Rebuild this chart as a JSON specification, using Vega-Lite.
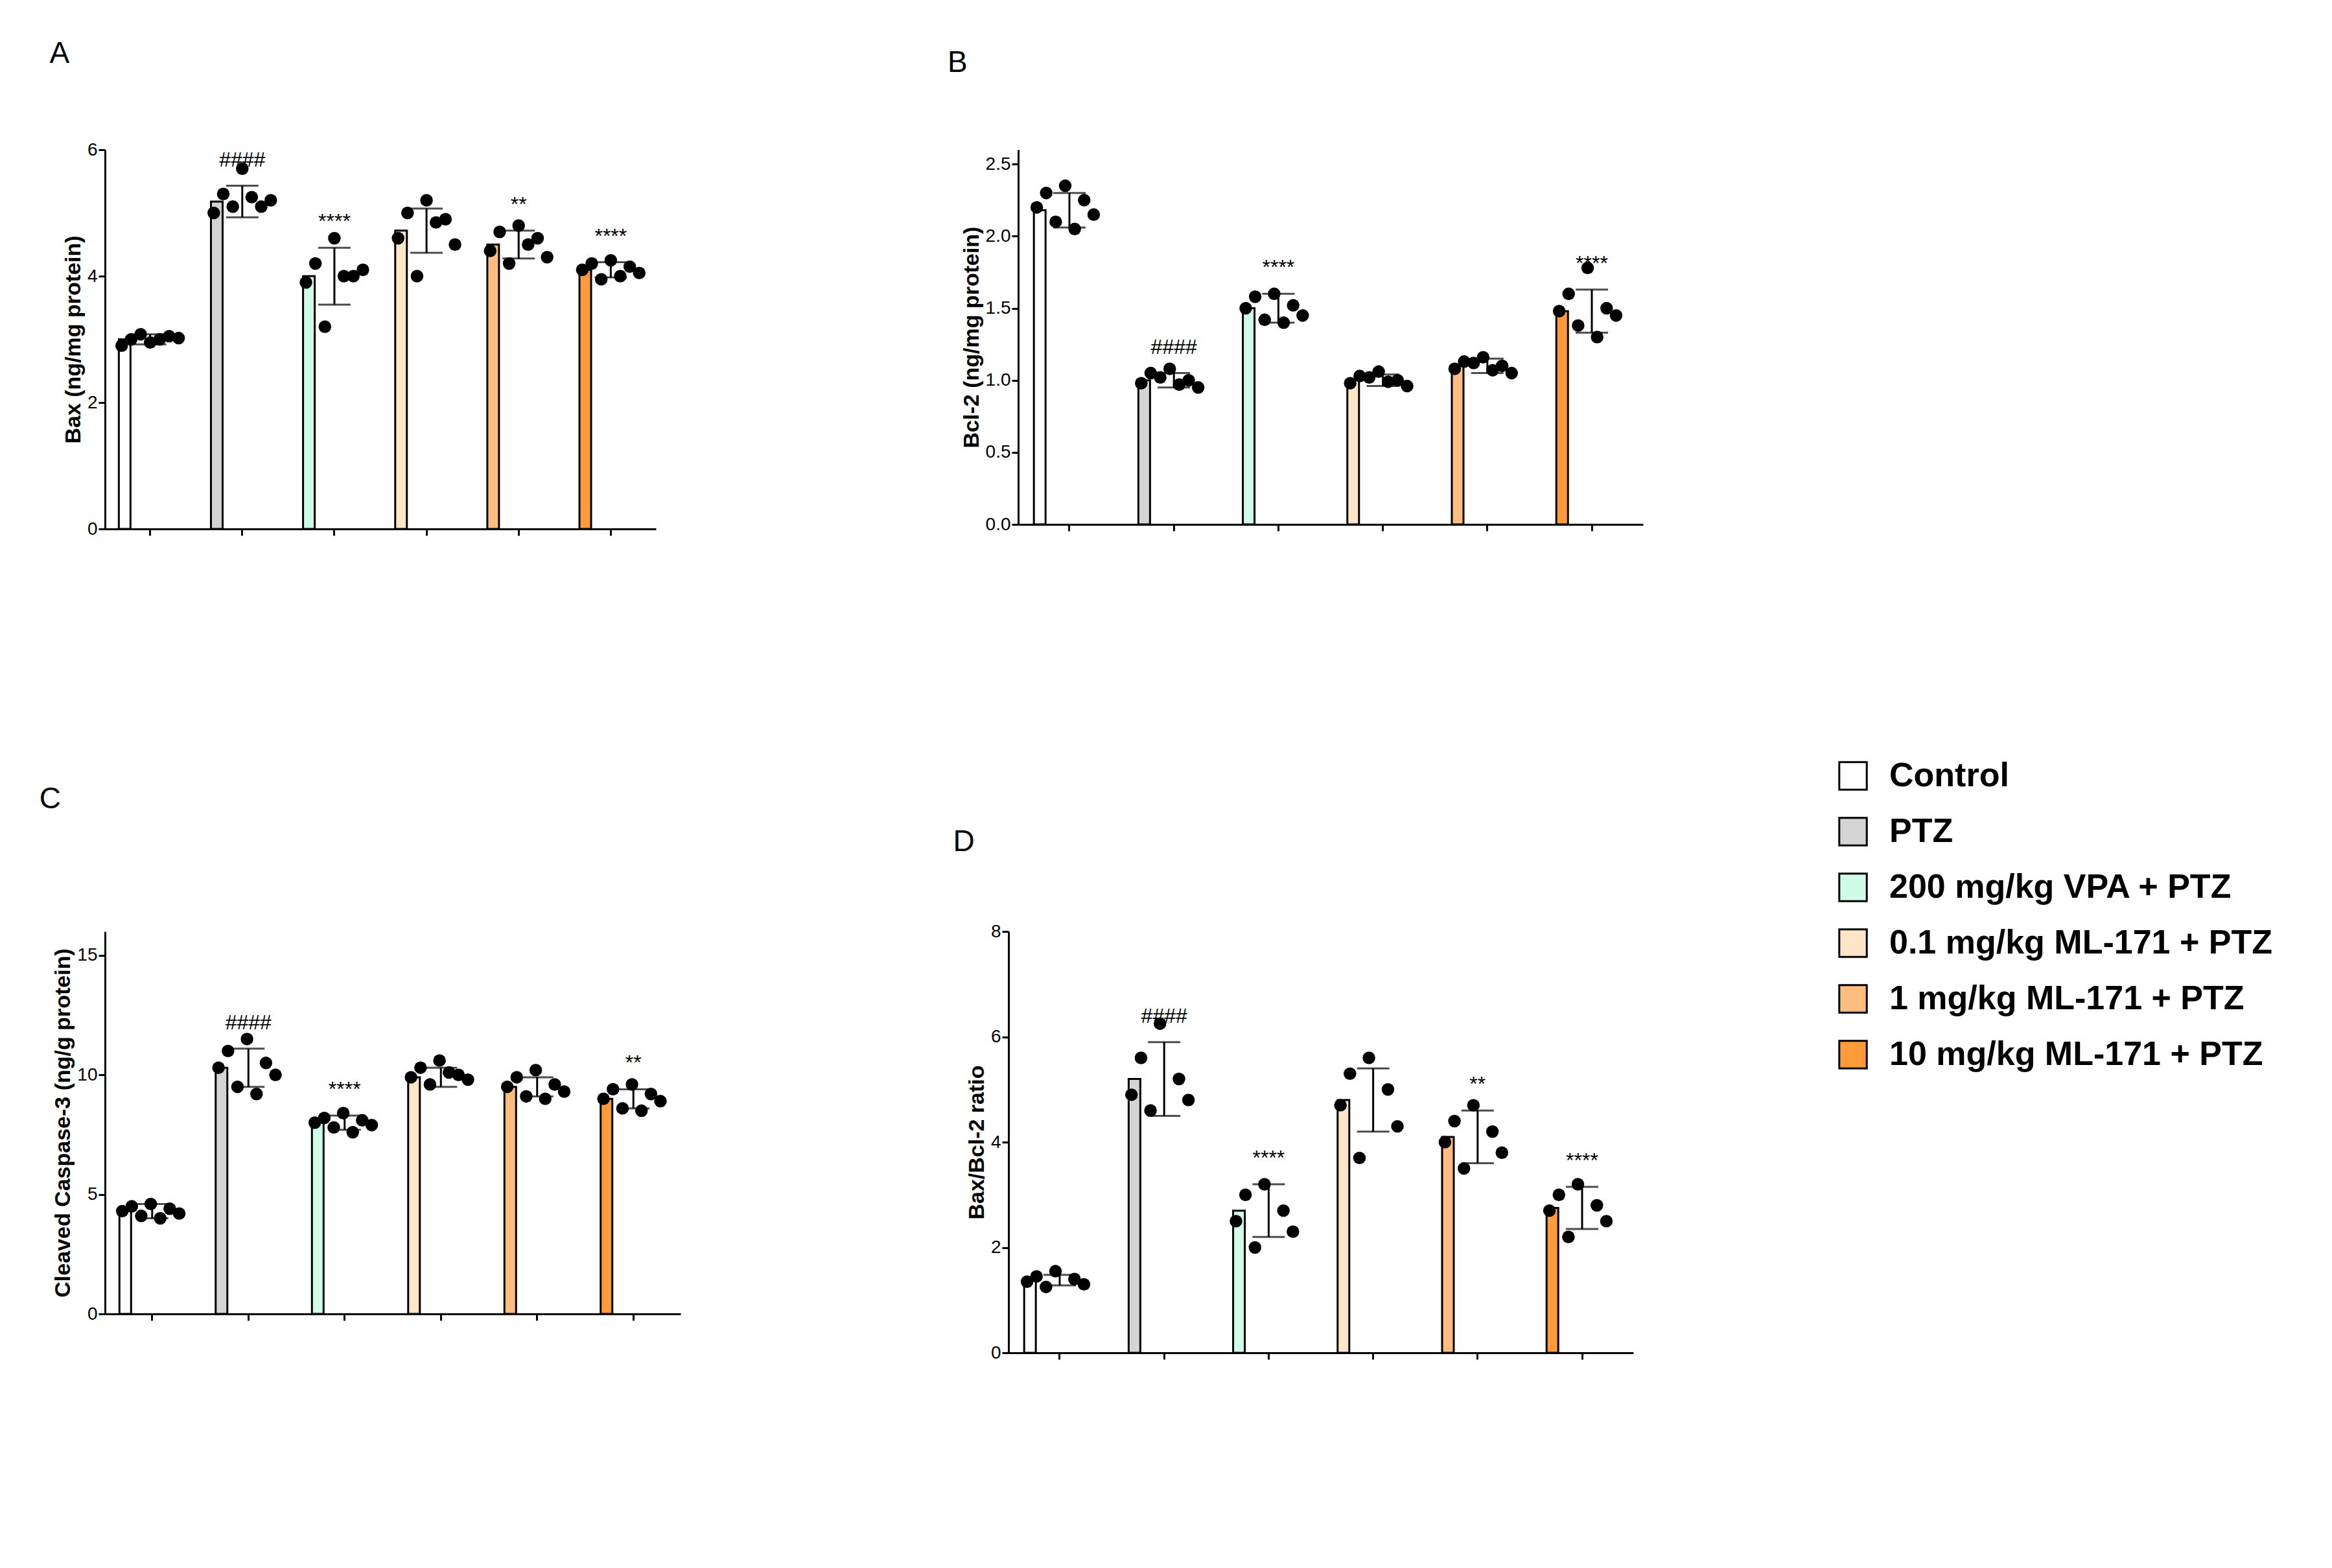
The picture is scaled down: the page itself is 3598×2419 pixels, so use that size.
{
"$schema":"https://vega.github.io/schema/vega-lite/v6.json",
"background":"white",
"padding":{"left":60,"top":60,"right":20,"bottom":20},
"config":{"view":{"stroke":null},"font":"Liberation Sans",
 "axis":{"labelFontSize":28,"titleFontSize":34,"titleFontWeight":"bold","tickColor":"black","domainColor":"black","domainWidth":3,"tickWidth":3,"tickSize":10,"labelColor":"black","titleColor":"black","grid":false},
 "title":{"fontSize":46,"fontWeight":"normal","anchor":"start","color":"black"},
 "legend":{"orient":"none","legendX":2671,"legendY":940,"title":null,"symbolType":"square","symbolSize":1800,"symbolStrokeColor":"black","symbolStrokeWidth":3,"labelFontSize":52,"labelFontWeight":"bold","labelColor":"black","rowPadding":30,"labelOffset":30,"labelLimit":1000}},
"datasets":{
"sum":[
{"p":"A","g":"Control","m":3.0,"lo":2.92,"hi":3.08,"lab":""},
{"p":"A","g":"PTZ","m":5.18,"lo":4.93,"hi":5.43,"lab":"####"},
{"p":"A","g":"200 mg/kg VPA + PTZ","m":4.0,"lo":3.55,"hi":4.45,"lab":"****"},
{"p":"A","g":"0.1 mg/kg ML-171 + PTZ","m":4.72,"lo":4.37,"hi":5.07,"lab":""},
{"p":"A","g":"1 mg/kg ML-171 + PTZ","m":4.5,"lo":4.28,"hi":4.72,"lab":"**"},
{"p":"A","g":"10 mg/kg ML-171 + PTZ","m":4.1,"lo":3.98,"hi":4.22,"lab":"****"},
{"p":"B","g":"Control","m":2.18,"lo":2.06,"hi":2.3,"lab":""},
{"p":"B","g":"PTZ","m":1.0,"lo":0.95,"hi":1.05,"lab":"####"},
{"p":"B","g":"200 mg/kg VPA + PTZ","m":1.5,"lo":1.4,"hi":1.6,"lab":"****"},
{"p":"B","g":"0.1 mg/kg ML-171 + PTZ","m":1.0,"lo":0.96,"hi":1.04,"lab":""},
{"p":"B","g":"1 mg/kg ML-171 + PTZ","m":1.1,"lo":1.05,"hi":1.15,"lab":""},
{"p":"B","g":"10 mg/kg ML-171 + PTZ","m":1.48,"lo":1.33,"hi":1.63,"lab":"****"},
{"p":"C","g":"Control","m":4.3,"lo":4.0,"hi":4.6,"lab":""},
{"p":"C","g":"PTZ","m":10.3,"lo":9.5,"hi":11.1,"lab":"####"},
{"p":"C","g":"200 mg/kg VPA + PTZ","m":8.0,"lo":7.7,"hi":8.3,"lab":"****"},
{"p":"C","g":"0.1 mg/kg ML-171 + PTZ","m":9.9,"lo":9.5,"hi":10.3,"lab":""},
{"p":"C","g":"1 mg/kg ML-171 + PTZ","m":9.5,"lo":9.1,"hi":9.9,"lab":""},
{"p":"C","g":"10 mg/kg ML-171 + PTZ","m":9.0,"lo":8.6,"hi":9.4,"lab":"**"},
{"p":"D","g":"Control","m":1.38,"lo":1.28,"hi":1.48,"lab":""},
{"p":"D","g":"PTZ","m":5.2,"lo":4.5,"hi":5.9,"lab":"####"},
{"p":"D","g":"200 mg/kg VPA + PTZ","m":2.7,"lo":2.2,"hi":3.2,"lab":"****"},
{"p":"D","g":"0.1 mg/kg ML-171 + PTZ","m":4.8,"lo":4.2,"hi":5.4,"lab":""},
{"p":"D","g":"1 mg/kg ML-171 + PTZ","m":4.1,"lo":3.6,"hi":4.6,"lab":"**"},
{"p":"D","g":"10 mg/kg ML-171 + PTZ","m":2.75,"lo":2.35,"hi":3.15,"lab":"****"}
],
"pts":[
{"p":"A","g":"Control","vals":[2.95,3.0,3.05,2.9,3.02,3.08,3.0]},
{"p":"A","g":"PTZ","vals":[5.7,5.3,5.1,5.0,5.2,5.1,5.25]},
{"p":"A","g":"200 mg/kg VPA + PTZ","vals":[4.6,4.2,4.0,3.9,4.1,3.2,4.0]},
{"p":"A","g":"0.1 mg/kg ML-171 + PTZ","vals":[5.2,5.0,4.9,4.6,4.5,4.0,4.85]},
{"p":"A","g":"1 mg/kg ML-171 + PTZ","vals":[4.8,4.7,4.6,4.4,4.3,4.2,4.5]},
{"p":"A","g":"10 mg/kg ML-171 + PTZ","vals":[4.25,4.2,4.15,4.1,4.05,3.95,4.0]},
{"p":"B","g":"Control","vals":[2.35,2.3,2.25,2.2,2.15,2.1,2.05]},
{"p":"B","g":"PTZ","vals":[1.08,1.05,1.0,0.98,0.95,1.02,0.97]},
{"p":"B","g":"200 mg/kg VPA + PTZ","vals":[1.6,1.58,1.52,1.5,1.45,1.42,1.4]},
{"p":"B","g":"0.1 mg/kg ML-171 + PTZ","vals":[1.06,1.03,1.0,0.98,0.96,1.02,0.99]},
{"p":"B","g":"1 mg/kg ML-171 + PTZ","vals":[1.16,1.13,1.1,1.08,1.05,1.12,1.07]},
{"p":"B","g":"10 mg/kg ML-171 + PTZ","vals":[1.78,1.6,1.5,1.48,1.45,1.38,1.3]},
{"p":"C","g":"Control","vals":[4.6,4.5,4.4,4.3,4.2,4.1,4.0]},
{"p":"C","g":"PTZ","vals":[11.5,11.0,10.5,10.3,10.0,9.5,9.2]},
{"p":"C","g":"200 mg/kg VPA + PTZ","vals":[8.4,8.2,8.1,8.0,7.9,7.8,7.6]},
{"p":"C","g":"0.1 mg/kg ML-171 + PTZ","vals":[10.6,10.3,10.0,9.9,9.8,9.6,10.1]},
{"p":"C","g":"1 mg/kg ML-171 + PTZ","vals":[10.2,9.9,9.6,9.5,9.3,9.1,9.0]},
{"p":"C","g":"10 mg/kg ML-171 + PTZ","vals":[9.6,9.4,9.2,9.0,8.9,8.6,8.5]},
{"p":"D","g":"Control","vals":[1.55,1.45,1.4,1.35,1.3,1.25]},
{"p":"D","g":"PTZ","vals":[6.25,5.6,5.2,4.9,4.8,4.6]},
{"p":"D","g":"200 mg/kg VPA + PTZ","vals":[3.2,3.0,2.7,2.5,2.3,2.0]},
{"p":"D","g":"0.1 mg/kg ML-171 + PTZ","vals":[5.6,5.3,5.0,4.7,4.3,3.7]},
{"p":"D","g":"1 mg/kg ML-171 + PTZ","vals":[4.7,4.4,4.2,4.0,3.8,3.5]},
{"p":"D","g":"10 mg/kg ML-171 + PTZ","vals":[3.2,3.0,2.8,2.7,2.5,2.2]}
]},
"vconcat":[
{"hconcat":[
{"width":850,"height":585,"title":{"text":"A","offset":110,"dx":-20},
"resolve":{"scale":{"x":"independent"}},
"layer":[
{"layer":[
{"data":{"name":"sum"},"transform":[{"filter":"datum.p=='A'"}],"mark":{"type":"bar","stroke":"black","strokeWidth":3},
 "encoding":{"x":{"field":"g","type":"nominal","sort":null,"scale":{"paddingInner":0.32,"paddingOuter":0.15},"axis":{"labels":false,"title":null}},
 "y":{"field":"m","type":"quantitative","scale":{"domain":[0,6]},"axis":{"values":[0,2,4,6],"format":"d","title":"Bax (ng/mg protein)"}},
 "color":{"field":"g","type":"nominal","sort":null,"scale":{"range":["#ffffff","#d4d4d4","#cffbe9","#fde6c8","#fdbd7f","#fd9b3b"]}}}},
{"data":{"name":"sum"},"transform":[{"filter":"datum.p=='A'"}],"mark":{"type":"rule","strokeWidth":3,"color":"black"},
 "encoding":{"x":{"field":"g","type":"nominal","sort":null},"y":{"field":"lo","type":"quantitative"},"y2":{"field":"hi"}}},
{"data":{"name":"sum"},"transform":[{"filter":"datum.p=='A'"}],"mark":{"type":"tick","thickness":3,"size":50,"color":"black"},
 "encoding":{"x":{"field":"g","type":"nominal","sort":null},"y":{"field":"lo","type":"quantitative"}}},
{"data":{"name":"sum"},"transform":[{"filter":"datum.p=='A'"}],"mark":{"type":"tick","thickness":3,"size":50,"color":"black"},
 "encoding":{"x":{"field":"g","type":"nominal","sort":null},"y":{"field":"hi","type":"quantitative"}}},
{"data":{"name":"sum"},"transform":[{"filter":"datum.p=='A'"}],"mark":{"type":"text","fontSize":32,"dy":-40,"color":"black"},
 "encoding":{"x":{"field":"g","type":"nominal","sort":null},"y":{"field":"hi","type":"quantitative"},"text":{"field":"lab"}}}
]},
{"data":{"name":"pts"},"transform":[{"filter":"datum.p=='A'"},{"flatten":["vals"],"as":["v"]},{"window":[{"op":"row_number","as":"r"}],"groupby":["g"]}],
 "mark":{"type":"circle","size":380,"color":"black","opacity":1},
 "encoding":{"x":{"field":"g","type":"nominal","sort":null,"scale":{"paddingInner":0.32,"paddingOuter":0.15},"axis":null},"xOffset":{"field":"r","type":"ordinal","scale":{"domain":[4,2,6,1,7,3,5],"paddingOuter":0.3}},"y":{"field":"v","type":"quantitative"}}}
]},
{"width":964,"height":578,"title":{"text":"B","offset":110,"dx":-20},
"resolve":{"scale":{"x":"independent"}},
"layer":[
{"layer":[
{"data":{"name":"sum"},"transform":[{"filter":"datum.p=='B'"}],"mark":{"type":"bar","stroke":"black","strokeWidth":3},
 "encoding":{"x":{"field":"g","type":"nominal","sort":null,"scale":{"paddingInner":0.32,"paddingOuter":0.15},"axis":{"labels":false,"title":null}},
 "y":{"field":"m","type":"quantitative","scale":{"domain":[0,2.5]},"axis":{"values":[0,0.5,1,1.5,2,2.5],"format":".1f","title":"Bcl-2 (ng/mg protein)"}},
 "color":{"field":"g","type":"nominal","sort":null,"scale":{"range":["#ffffff","#d4d4d4","#cffbe9","#fde6c8","#fdbd7f","#fd9b3b"]}}}},
{"data":{"name":"sum"},"transform":[{"filter":"datum.p=='B'"}],"mark":{"type":"rule","strokeWidth":3,"color":"black"},
 "encoding":{"x":{"field":"g","type":"nominal","sort":null},"y":{"field":"lo","type":"quantitative"},"y2":{"field":"hi"}}},
{"data":{"name":"sum"},"transform":[{"filter":"datum.p=='B'"}],"mark":{"type":"tick","thickness":3,"size":50,"color":"black"},
 "encoding":{"x":{"field":"g","type":"nominal","sort":null},"y":{"field":"lo","type":"quantitative"}}},
{"data":{"name":"sum"},"transform":[{"filter":"datum.p=='B'"}],"mark":{"type":"tick","thickness":3,"size":50,"color":"black"},
 "encoding":{"x":{"field":"g","type":"nominal","sort":null},"y":{"field":"hi","type":"quantitative"}}},
{"data":{"name":"sum"},"transform":[{"filter":"datum.p=='B'"}],"mark":{"type":"text","fontSize":32,"dy":-40,"color":"black"},
 "encoding":{"x":{"field":"g","type":"nominal","sort":null},"y":{"field":"hi","type":"quantitative"},"text":{"field":"lab"}}}
]},
{"data":{"name":"pts"},"transform":[{"filter":"datum.p=='B'"},{"flatten":["vals"],"as":["v"]},{"window":[{"op":"row_number","as":"r"}],"groupby":["g"]}],
 "mark":{"type":"circle","size":380,"color":"black","opacity":1},
 "encoding":{"x":{"field":"g","type":"nominal","sort":null,"scale":{"paddingInner":0.32,"paddingOuter":0.15},"axis":null},"xOffset":{"field":"r","type":"ordinal","scale":{"domain":[4,2,6,1,7,3,5],"paddingOuter":0.3}},"y":{"field":"v","type":"quantitative"}}}
]}
],"spacing":450},
{"hconcat":[
{"width":888,"height":590,"title":{"text":"C","offset":180,"dx":-20},
"resolve":{"scale":{"x":"independent"}},
"layer":[
{"layer":[
{"data":{"name":"sum"},"transform":[{"filter":"datum.p=='C'"}],"mark":{"type":"bar","stroke":"black","strokeWidth":3},
 "encoding":{"x":{"field":"g","type":"nominal","sort":null,"scale":{"paddingInner":0.32,"paddingOuter":0.15},"axis":{"labels":false,"title":null}},
 "y":{"field":"m","type":"quantitative","scale":{"domain":[0,15]},"axis":{"values":[0,5,10,15],"format":"d","title":"Cleaved Caspase-3 (ng/g protein)"}},
 "color":{"field":"g","type":"nominal","sort":null,"scale":{"range":["#ffffff","#d4d4d4","#cffbe9","#fde6c8","#fdbd7f","#fd9b3b"]}}}},
{"data":{"name":"sum"},"transform":[{"filter":"datum.p=='C'"}],"mark":{"type":"rule","strokeWidth":3,"color":"black"},
 "encoding":{"x":{"field":"g","type":"nominal","sort":null},"y":{"field":"lo","type":"quantitative"},"y2":{"field":"hi"}}},
{"data":{"name":"sum"},"transform":[{"filter":"datum.p=='C'"}],"mark":{"type":"tick","thickness":3,"size":50,"color":"black"},
 "encoding":{"x":{"field":"g","type":"nominal","sort":null},"y":{"field":"lo","type":"quantitative"}}},
{"data":{"name":"sum"},"transform":[{"filter":"datum.p=='C'"}],"mark":{"type":"tick","thickness":3,"size":50,"color":"black"},
 "encoding":{"x":{"field":"g","type":"nominal","sort":null},"y":{"field":"hi","type":"quantitative"}}},
{"data":{"name":"sum"},"transform":[{"filter":"datum.p=='C'"}],"mark":{"type":"text","fontSize":32,"dy":-40,"color":"black"},
 "encoding":{"x":{"field":"g","type":"nominal","sort":null},"y":{"field":"hi","type":"quantitative"},"text":{"field":"lab"}}}
]},
{"data":{"name":"pts"},"transform":[{"filter":"datum.p=='C'"},{"flatten":["vals"],"as":["v"]},{"window":[{"op":"row_number","as":"r"}],"groupby":["g"]}],
 "mark":{"type":"circle","size":380,"color":"black","opacity":1},
 "encoding":{"x":{"field":"g","type":"nominal","sort":null,"scale":{"paddingInner":0.32,"paddingOuter":0.15},"axis":null},"xOffset":{"field":"r","type":"ordinal","scale":{"domain":[4,2,6,1,7,3,5],"paddingOuter":0.3}},"y":{"field":"v","type":"quantitative"}}}
]},
{"width":964,"height":650,"title":{"text":"D","offset":100,"dx":-20},
"resolve":{"scale":{"x":"independent"}},
"layer":[
{"layer":[
{"data":{"name":"sum"},"transform":[{"filter":"datum.p=='D'"}],"mark":{"type":"bar","stroke":"black","strokeWidth":3},
 "encoding":{"x":{"field":"g","type":"nominal","sort":null,"scale":{"paddingInner":0.32,"paddingOuter":0.15},"axis":{"labels":false,"title":null}},
 "y":{"field":"m","type":"quantitative","scale":{"domain":[0,8]},"axis":{"values":[0,2,4,6,8],"format":"d","title":"Bax/Bcl-2 ratio"}},
 "color":{"field":"g","type":"nominal","sort":null,"scale":{"range":["#ffffff","#d4d4d4","#cffbe9","#fde6c8","#fdbd7f","#fd9b3b"]}}}},
{"data":{"name":"sum"},"transform":[{"filter":"datum.p=='D'"}],"mark":{"type":"rule","strokeWidth":3,"color":"black"},
 "encoding":{"x":{"field":"g","type":"nominal","sort":null},"y":{"field":"lo","type":"quantitative"},"y2":{"field":"hi"}}},
{"data":{"name":"sum"},"transform":[{"filter":"datum.p=='D'"}],"mark":{"type":"tick","thickness":3,"size":50,"color":"black"},
 "encoding":{"x":{"field":"g","type":"nominal","sort":null},"y":{"field":"lo","type":"quantitative"}}},
{"data":{"name":"sum"},"transform":[{"filter":"datum.p=='D'"}],"mark":{"type":"tick","thickness":3,"size":50,"color":"black"},
 "encoding":{"x":{"field":"g","type":"nominal","sort":null},"y":{"field":"hi","type":"quantitative"}}},
{"data":{"name":"sum"},"transform":[{"filter":"datum.p=='D'"}],"mark":{"type":"text","fontSize":32,"dy":-40,"color":"black"},
 "encoding":{"x":{"field":"g","type":"nominal","sort":null},"y":{"field":"hi","type":"quantitative"},"text":{"field":"lab"}}}
]},
{"data":{"name":"pts"},"transform":[{"filter":"datum.p=='D'"},{"flatten":["vals"],"as":["v"]},{"window":[{"op":"row_number","as":"r"}],"groupby":["g"]}],
 "mark":{"type":"circle","size":380,"color":"black","opacity":1},
 "encoding":{"x":{"field":"g","type":"nominal","sort":null,"scale":{"paddingInner":0.32,"paddingOuter":0.15},"axis":null},"xOffset":{"field":"r","type":"ordinal","scale":{"domain":[4,2,6,1,7,3,5],"paddingOuter":0.3}},"y":{"field":"v","type":"quantitative"}}}
]}
],"spacing":420}
],"spacing":380
}
